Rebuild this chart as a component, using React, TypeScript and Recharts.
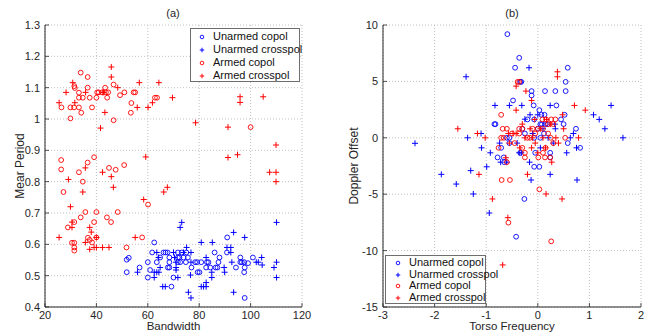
import React from 'react';
import { ScatterChart, Scatter, XAxis, YAxis, CartesianGrid } from 'recharts';

// panel (a): Bandwidth vs Mear Period
const bandwidthTicks = [20, 40, 60, 80, 100, 120];
const periodTicks = [0.4, 0.5, 0.6, 0.7, 0.8, 0.9, 1, 1.1, 1.2, 1.3];

const aUnarmedCopol = [
  [62.5, 0.606], [90.9, 0.622], [90.8, 0.574], [61.7, 0.574], [66.1, 0.574], [66.9, 0.574], [67.7, 0.574],
  [71.7, 0.574], [73.2, 0.574], [75, 0.574], [86, 0.574], [51.8, 0.551], [52.6, 0.557], [64.8, 0.558],
  [68.4, 0.558], [71.7, 0.558], [72.3, 0.558], [73.9, 0.558], [75.6, 0.558], [87.9, 0.558], [96, 0.558],
  [100.9, 0.558], [60, 0.543], [63.5, 0.543], [68.4, 0.543], [71.7, 0.543], [72.6, 0.543], [74.8, 0.543],
  [78.4, 0.543], [79.2, 0.543], [80.8, 0.543], [83, 0.543], [83.6, 0.543], [87.5, 0.543], [96, 0.543],
  [96.6, 0.543], [97.5, 0.543], [56.8, 0.526], [60.9, 0.518], [67.8, 0.526], [68.4, 0.526], [82.7, 0.526],
  [84.3, 0.526], [86.4, 0.526], [87.1, 0.526], [94.3, 0.526], [97.7, 0.526], [51.8, 0.511], [79.4, 0.511],
  [80.1, 0.511], [97.5, 0.511], [60, 0.494], [70, 0.494], [69.2, 0.465], [97.7, 0.429], [99, 0.54], [77, 0.526],
];
const aUnarmedCross = [
  [73.2, 0.67], [72.6, 0.654], [110.1, 0.67], [93.4, 0.638], [97.7, 0.622], [80.8, 0.606], [85.1, 0.606],
  [75.1, 0.59], [90.8, 0.59], [92.3, 0.59], [92.3, 0.574], [63.5, 0.574], [70, 0.574], [73.9, 0.574],
  [76.8, 0.574], [64.2, 0.558], [70.4, 0.558], [82.7, 0.558], [104.3, 0.558], [71, 0.543], [76.8, 0.543],
  [92.7, 0.543], [102.2, 0.543], [103, 0.543], [110.1, 0.543], [64.8, 0.526], [71, 0.526], [89.7, 0.526],
  [104.5, 0.534], [109.1, 0.526], [56, 0.511], [62.5, 0.511], [63.5, 0.511], [64.3, 0.511], [71, 0.518],
  [84.9, 0.511], [89.9, 0.511], [62.5, 0.494], [71.7, 0.494], [76.6, 0.502], [84.9, 0.494], [110.1, 0.494],
  [65.8, 0.465], [66.8, 0.465], [80.8, 0.465], [81.7, 0.465], [82.7, 0.465], [82.7, 0.478], [75.8, 0.447],
  [76.8, 0.429], [93.4, 0.447],
];
const aArmedCopol = [
  [33.9, 1.148], [36.6, 1.134], [31.4, 1.105], [31.6, 1.099], [36.6, 1.1], [33.2, 1.084], [43.4, 1.1],
  [46.7, 1.11], [49.2, 1.076], [50.9, 1.085], [40.3, 1.085], [40.9, 1.085], [42.2, 1.085], [43.7, 1.085],
  [44.6, 1.085], [54.5, 1.085], [55.1, 1.085], [33.2, 1.068], [34.7, 1.068], [37.4, 1.068], [40, 1.068],
  [44.2, 1.068], [62.8, 1.068], [63.6, 1.068], [26.4, 1.037], [29.9, 1.037], [31.3, 1.037], [33.2, 1.037],
  [38.3, 1.037], [34.1, 1.02], [29.9, 1.002], [53.6, 1.051], [53.4, 1.02], [46.7, 0.996], [100, 0.974],
  [26.3, 0.869], [26.3, 0.839], [27.2, 0.767], [33.2, 0.83], [36.6, 0.861], [39.1, 0.878], [34.7, 0.8],
  [44.9, 0.844], [47.5, 0.838], [50.8, 0.853], [60.1, 0.727], [31.4, 0.671], [28.9, 0.654], [33.9, 0.686],
  [35.7, 0.703], [39.1, 0.671], [40, 0.703], [44.1, 0.686], [45.7, 0.671], [48.3, 0.703], [30.5, 0.605],
  [31.4, 0.605], [31.4, 0.59], [31.4, 0.58], [36.7, 0.621], [37.4, 0.614], [38.3, 0.606], [40, 0.622],
  [51.7, 0.59], [57.8, 0.622],
];
const aArmedCross = [
  [30.8, 1.116], [35.8, 1.085], [45.8, 1.166], [45.8, 1.134], [48.3, 1.1], [56.7, 1.116], [64.3, 1.116],
  [42.9, 1.085], [28.2, 1.085], [42.5, 1.085], [69.6, 1.068], [25.5, 1.052], [31.6, 1.052], [55.9, 1.037],
  [60.1, 1.037], [61.8, 1.052], [43.3, 1.021], [41.6, 0.971], [78.6, 0.988], [95.9, 1.071], [95.9, 1.053],
  [104.9, 1.071], [91.2, 0.974], [91.2, 0.877], [94.9, 0.886], [109.9, 0.917], [107.4, 0.83], [109.9, 0.83],
  [109.9, 0.8], [29.1, 0.807], [35.7, 0.844], [34.7, 0.767], [42.4, 0.83], [45.8, 0.816], [46.6, 0.782],
  [59.2, 0.879], [58.4, 0.743], [66.2, 0.767], [67.6, 0.782], [29.9, 0.72], [30.5, 0.671], [30.5, 0.654],
  [37.4, 0.654], [38, 0.639], [25.5, 0.622], [35.7, 0.606], [40, 0.622], [37.4, 0.584], [39.1, 0.59],
  [40, 0.59], [42.4, 0.59], [44.9, 0.59], [55.1, 0.622],
];

// panel (b): Torso Frequency vs Doppler Offset
const torsoTicks = [-3, -2, -1, 0, 1, 2];
const dopplerTicks = [-15, -10, -5, 0, 5, 10];

const bUnarmedCopol = [
  [-0.59, 9.19], [-0.36, 7.09], [-0.44, 6.21], [0.58, 6.21], [-0.34, 4.96], [-0.32, 4.96], [0.54, 4.96],
  [0.14, 4.14], [0.34, 4.14], [0.54, 4.14], [-0.12, 4.14], [-0.12, 3.75], [-0.48, 3.31], [-0.08, 2.87],
  [0.03, 2.45], [0.36, 2.87], [0.07, 2.04], [0.13, 2.04], [0.52, 2.04], [-0.2, 1.63], [-0.07, 1.63],
  [0.45, 1.63], [0.05, 1.21], [0.08, 1.21], [0.15, 1.21], [0.19, 1.21], [0.5, 1.21], [-0.84, 1.21],
  [-0.82, 1.21], [0.74, 0.8], [-0.3, 0.8], [0.0, 0.8], [-0.25, 0.38], [0.12, 0.38], [-0.55, 0], [-0.6, 0],
  [-0.07, 0], [0.05, 0], [0.58, -0.47], [0.82, -0.89], [-0.71, -0.89], [-0.55, -0.47], [-0.34, -1.33],
  [0.24, -1.33], [-0.05, -1.33], [-0.78, -1.74], [-0.66, -1.74], [-0.65, -2.16], [0.24, -1.74],
  [-0.07, -2.57], [0.03, -2.57], [-0.26, -5.42], [-0.42, -8.77],
];
const bUnarmedCross = [
  [-0.17, 6.21], [-1.39, 5.41], [-0.83, 2.87], [-0.55, 2.87], [-0.31, 2.87], [0.24, 2.87], [1.42, 2.87],
  [1.08, 2.04], [1.19, 1.63], [1.3, 0.8], [1.65, 0], [-1.36, 0], [-1.1, 0.38], [-1.09, -0.89], [-0.92, -1.33],
  [-0.99, -2.57], [-0.72, -2.16], [-0.6, -2.16], [-0.25, 1.65], [0.33, 1.21], [0.34, 0.8], [0.69, 0.38],
  [0.63, 0], [0.75, -0.89], [0.56, -1.33], [-0.16, -2.16], [-0.36, -1.33], [-0.32, -1.33], [-0.74, -0.47],
  [-0.13, -3.74], [0.24, -3.24], [0.76, -3.74], [-1.87, -3.24], [-1.58, -4.1], [-1.25, -4.98], [-1.3, -2.91],
  [-0.94, -6.67], [-2.38, -0.49], [-0.15, 2.04], [0.0, 2.04], [-0.1, 0.38], [0.2, 0.0], [0.3, -0.47],
  [-0.4, -0.47], [0.05, -0.89], [0.1, 0.8],
];
const bArmedCopol = [
  [-0.39, 4.96], [-0.36, 4.96], [-0.71, 2.04], [0.09, 1.63], [0.16, 1.63], [0.26, 1.63], [0.34, 1.63],
  [-0.68, 0.8], [-0.6, 0.8], [-0.36, 0.8], [-0.3, 0.8], [-0.36, 0.38], [0.53, 0], [-0.71, 0], [-0.66, 0],
  [-0.76, -0.89], [0.14, -1.74], [0.24, -1.74], [0.01, -1.74], [-0.25, -1.74], [-0.6, -2.16], [-0.7, -3.74],
  [-0.54, -3.74], [0.03, -4.57], [-0.57, -7.52], [0.26, -9.18], [-0.1, 0.8], [0.0, 0.8], [0.1, 0.8],
  [0.2, 1.21], [0.3, 1.21], [-0.2, 0], [-0.15, 0], [0.25, 0], [0.3, -0.47], [0.15, -0.89], [-0.45, -0.47],
  [-0.3, -0.89], [0.2, 0.38], [-0.05, 0.38], [-0.25, -1.33], [0.1, -1.33], [-0.5, 0.38],
];
const bArmedCross = [
  [0.38, 5.85], [0.38, 5.41], [-0.42, 4.58], [-0.23, 4.14], [-0.12, 3.31], [-0.42, 2.45], [0.71, 2.87],
  [0.92, 2.45], [-1.55, 0.8], [-1.17, 0.38], [-1.02, 0], [-0.62, -1.77], [0.17, 1.63], [-0.06, 1.63],
  [0.79, 0], [0.4, -0.47], [0.27, -2.16], [-0.57, 0.38], [-0.48, 0.38], [-0.42, 0.38], [-1.14, -3.24],
  [0.16, -4.98], [-0.88, -5.42], [0.47, -5.42], [-0.58, -7.08], [-0.68, -11.27], [-0.2, -3.24], [0.48, 2.04],
  [0.25, 1.21], [0.05, 0.8], [-0.15, 0.8], [-0.3, 1.21], [0.1, 0], [-0.1, 0], [0.35, 0], [-0.55, -0.47],
  [-0.35, -0.89], [0.15, -0.89], [-0.05, -0.47], [0.5, 0.8], [-0.25, 0.0], [0.0, -1.33], [-0.12, -0.89],
];

const seriesNames = ['Unarmed copol', 'Unarmed crosspol', 'Armed copol', 'Armed crosspol'];

const BLUE = '#0000ff';
const RED = '#ff0000';
const AX = '#262626';
const FONT = '"Liberation Sans", Arial, sans-serif';
const COLORS = [BLUE, BLUE, RED, RED];
const KINDS = ['o', '+', 'o', '+'];

const toPts = (a: number[][]) => a.map(([x, y]) => ({ x, y }));

const Marker = ({ cx, cy, color, kind, s = 1 }: any) =>
  kind === 'o' ? (
    <circle cx={cx} cy={cy} r={2.4 * s} fill="none" stroke={color} strokeWidth={0.9} />
  ) : (
    <path
      d={`M${cx - 3 * s},${cy}H${cx + 3 * s}M${cx},${cy - 3 * s}V${cy + 3 * s}`}
      stroke={color}
      strokeWidth={1}
    />
  );

// MATLAB style: ticks point inward
const BottomTick = (p: any) => {
  const ay = p.y - 4;
  return (
    <g>
      <line x1={p.x} x2={p.x} y1={ay} y2={ay - 4} stroke={AX} strokeWidth={0.8} />
      <text x={p.x} y={p.y} dy="0.71em" textAnchor="middle" fontSize={11} fontFamily={FONT} fill={AX}>
        {p.payload.value}
      </text>
    </g>
  );
};
const LeftTick = (p: any) => {
  const ax = p.x + 5;
  return (
    <g>
      <line x1={ax} x2={ax + 4} y1={p.y} y2={p.y} stroke={AX} strokeWidth={0.8} />
      <text x={p.x} y={p.y} dy="0.355em" textAnchor="end" fontSize={11} fontFamily={FONT} fill={AX}>
        {p.payload.value}
      </text>
    </g>
  );
};
const TopTick = (p: any) => <line x1={p.x} x2={p.x} y1={p.y} y2={p.y + 4} stroke={AX} strokeWidth={0.8} />;
const RightTick = (p: any) => <line x1={p.x} x2={p.x - 4} y1={p.y} y2={p.y} stroke={AX} strokeWidth={0.8} />;

const LegendBox = ({ style, padLeft, gap, rowH }: { style: React.CSSProperties; padLeft: number; gap: number; rowH: number }) => (
  <div
    style={{
      position: 'absolute',
      boxSizing: 'border-box',
      background: '#fff',
      border: '1px solid #6e6e6e',
      padding: `1px 4px 0 ${padLeft}px`,
      fontFamily: FONT,
      fontSize: 11,
      color: '#111',
      lineHeight: `${rowH}px`,
      ...style,
    }}
  >
    {seriesNames.map((n, i) => (
      <div key={n} style={{ display: 'flex', alignItems: 'center', whiteSpace: 'nowrap' }}>
        <svg width={10} height={10} style={{ marginRight: gap, flexShrink: 0 }}>
          <Marker cx={5} cy={5} color={COLORS[i]} kind={KINDS[i]} s={0.75} />
        </svg>
        {n}
      </div>
    ))}
  </div>
);

const Title = ({ x, text }: { x: number; text: string }) => (
  <div
    style={{
      position: 'absolute',
      left: x - 20,
      width: 40,
      top: 7,
      textAlign: 'center',
      fontFamily: FONT,
      fontSize: 11,
      color: AX,
      lineHeight: '13px',
    }}
  >
    {text}
  </div>
);

type PanelProps = {
  left: number;
  width: number;
  yAxisWidth: number;
  rightMargin: number;
  xLabel: string;
  yLabel: string;
  xTicks: number[];
  yTicks: number[];
  data: number[][][];
};

const Panel = ({ left, width, yAxisWidth, rightMargin, xLabel, yLabel, xTicks, yTicks, data }: PanelProps) => {
  const xDom = [xTicks[0], xTicks[xTicks.length - 1]];
  const yDom = [yTicks[0], yTicks[yTicks.length - 1]];
  return (
    <div style={{ position: 'absolute', left, top: 0 }}>
      <ScatterChart width={width} height={333} margin={{ top: 25, right: rightMargin, bottom: 0, left: 0 }}>
        <CartesianGrid stroke="#b0b0b0" strokeDasharray="1 2" strokeWidth={0.8} />
        <XAxis
          type="number"
          dataKey="x"
          domain={xDom}
          ticks={xTicks}
          height={26}
          tickSize={0}
          tickMargin={4}
          tick={<BottomTick />}
          axisLine={{ stroke: AX }}
          label={{ value: xLabel, position: 'insideBottom', offset: 3, fontSize: 11.5, fontFamily: FONT, fill: AX }}
        />
        <XAxis
          xAxisId="top"
          type="number"
          orientation="top"
          domain={xDom}
          ticks={xTicks}
          height={0}
          tickSize={0}
          tickMargin={0}
          tick={<TopTick />}
          axisLine={{ stroke: AX }}
        />
        <YAxis
          type="number"
          dataKey="y"
          domain={yDom}
          ticks={yTicks}
          width={yAxisWidth}
          tickSize={0}
          tickMargin={5}
          tick={<LeftTick />}
          axisLine={{ stroke: AX }}
          label={{ value: yLabel, angle: -90, position: 'center', dx: -3, fontSize: 12, fontFamily: FONT, fill: AX }}
        />
        <YAxis
          yAxisId="right"
          type="number"
          orientation="right"
          domain={yDom}
          ticks={yTicks}
          width={0}
          tickSize={0}
          tickMargin={0}
          tick={<RightTick />}
          axisLine={{ stroke: AX }}
        />
        {data.map((d, i) => (
          <Scatter
            key={seriesNames[i]}
            name={seriesNames[i]}
            data={toPts(d)}
            isAnimationActive={false}
            shape={(p: any) => <Marker cx={p.cx} cy={p.cy} color={COLORS[i]} kind={KINDS[i]} />}
          />
        ))}
      </ScatterChart>
    </div>
  );
};

export default function App() {
  return (
    <div style={{ position: 'absolute', left: 0, top: 0, width: 651, height: 333, background: '#fff', overflow: 'hidden' }}>
      <Panel
        left={0}
        width={320}
        yAxisWidth={45}
        rightMargin={18}
        xLabel="Bandwidth"
        yLabel="Mear Period"
        xTicks={bandwidthTicks}
        yTicks={periodTicks}
        data={[aUnarmedCopol, aUnarmedCross, aArmedCopol, aArmedCross]}
      />
      <Panel
        left={330}
        width={321}
        yAxisWidth={53}
        rightMargin={10}
        xLabel="Torso Frequency"
        yLabel="Doppler Offset"
        xTicks={torsoTicks}
        yTicks={dopplerTicks}
        data={[bUnarmedCopol, bUnarmedCross, bArmedCopol, bArmedCross]}
      />
      <Title x={173} text="(a)" />
      <Title x={512} text="(b)" />
      <LegendBox style={{ left: 190, top: 28, width: 110, height: 54 }} padLeft={6} gap={6} rowH={13} />
      <LegendBox style={{ left: 385, top: 255, width: 101, height: 49 }} padLeft={7} gap={6} rowH={11.7} />
    </div>
  );
}
